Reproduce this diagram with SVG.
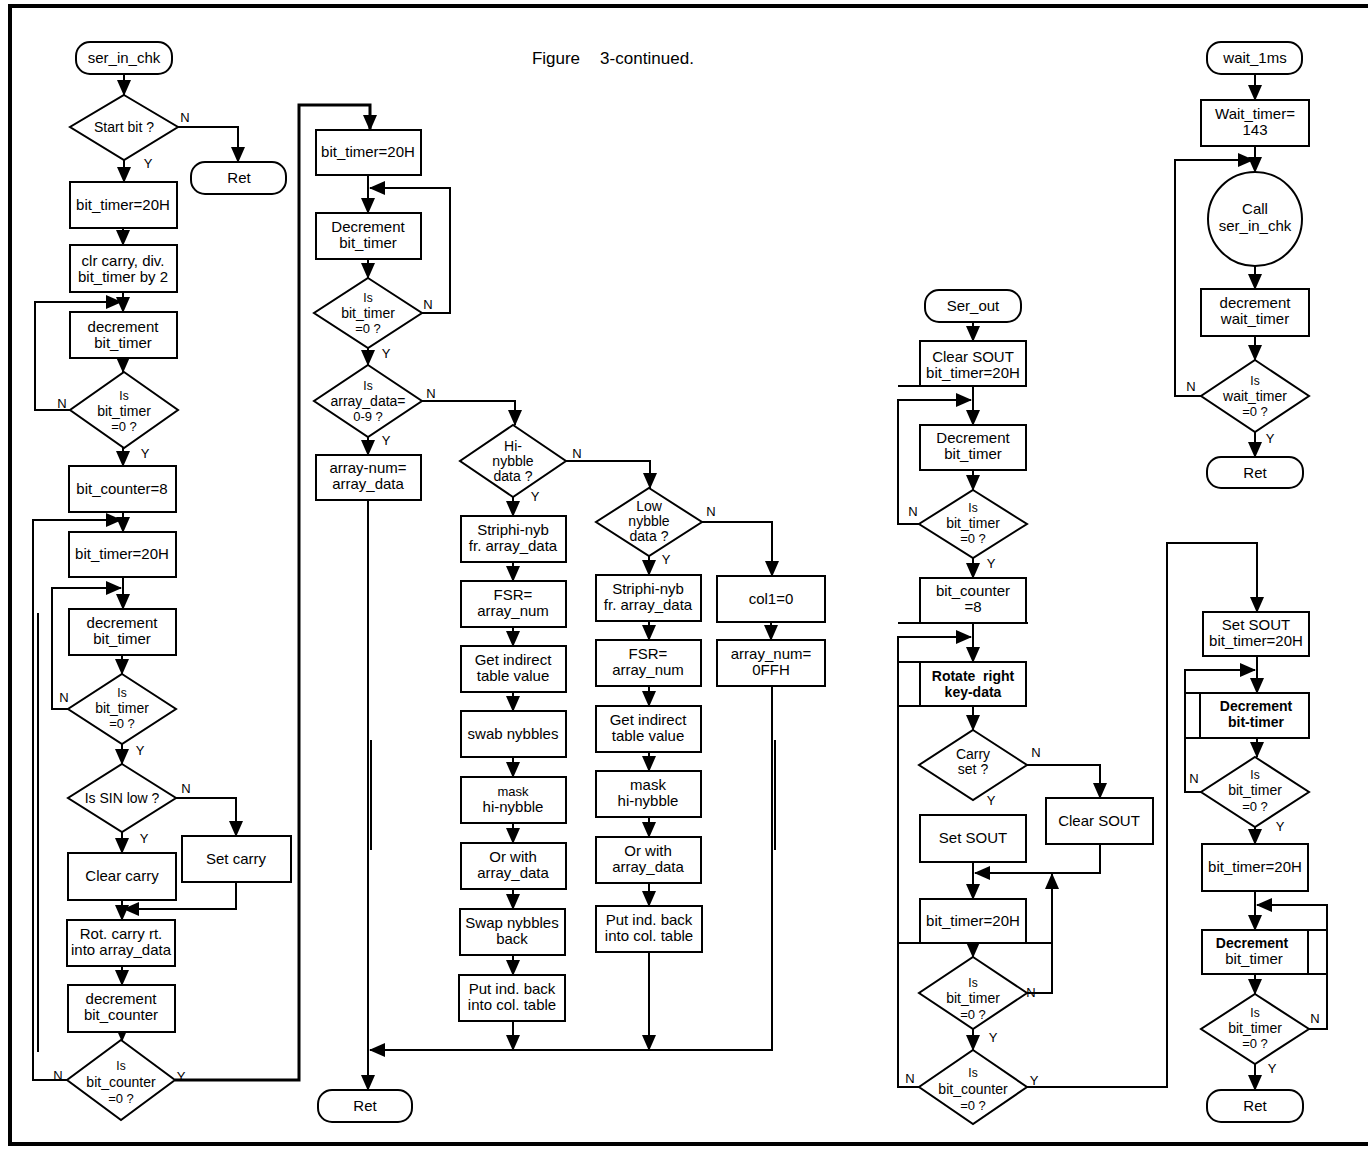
<svg xmlns="http://www.w3.org/2000/svg" width="1368" height="1149" viewBox="0 0 1368 1149">
<defs>
<marker id="a" markerUnits="userSpaceOnUse" markerWidth="16" markerHeight="14" refX="15" refY="7" orient="auto"><path d="M0,0 L16,7 L0,14 z" fill="#000"/></marker>
<style>
.b{fill:#fff;stroke:#000;stroke-width:2}
.c{fill:none;stroke:#000;stroke-width:2}
.ar{fill:none;stroke:#000;stroke-width:2;marker-end:url(#a)}
text{font-family:"Liberation Sans",Arial,sans-serif;font-size:15px;text-anchor:middle;fill:#000}
.s{font-size:12px}
.d{font-size:14px}
.e{font-size:13px}
.bd{font-weight:bold;font-size:14px}
.l{font-size:13px}
</style>
</defs>
<rect x="0" y="0" width="1368" height="1149" fill="#fff"/>
<g id="frame" fill="none" stroke="#000" stroke-width="4">
<path d="M1368,6 H10 V1144 H1368"/>
</g>
<text x="532" y="64" style="text-anchor:start;font-size:17px" textLength="48">Figure</text>
<text x="600" y="64" style="text-anchor:start;font-size:17px" textLength="94">3-continued.</text>

<g id="connectors">
<!-- column 1 -->
<path class="ar" d="M124,74 V95"/>
<path class="ar" d="M178,127 H238 V162"/>
<path class="ar" d="M124,160 V182"/>
<path class="ar" d="M123,228 V245"/>
<path class="ar" d="M123,292 V312"/>
<path class="ar" d="M70,410 H35 V302 H121"/>
<path class="ar" d="M123,358 V372"/>
<path class="ar" d="M123,448 V466"/>
<path class="ar" d="M123,512 V532"/>
<path class="ar" d="M67,1080 H33 V520 H121"/>
<path class="ar" d="M123,577 V609"/>
<path class="ar" d="M68,709 H52 V588 H121"/>
<path class="ar" d="M122,655 V674"/>
<path class="ar" d="M122,744 V764"/>
<path class="ar" d="M176,798 H236 V836"/>
<path class="ar" d="M122,832 V853"/>
<path class="ar" d="M236,882 V909 H124"/>
<path class="ar" d="M122,900 V920"/>
<path class="ar" d="M122,966 V985"/>
<path class="ar" d="M122,1032 V1041"/>
<path class="ar" d="M175,1080 H299 V105 H370 V130" style="stroke-width:3"/>
<path class="c" d="M38,613 V1052"/>
<!-- column 2 -->
<path class="ar" d="M368,175 V213"/>
<path class="ar" d="M422,313 H450 V188 H370"/>
<path class="ar" d="M368,259 V278"/>
<path class="ar" d="M368,348 V365"/>
<path class="ar" d="M422,401 H515 V425"/>
<path class="ar" d="M368,437 V455"/>
<path class="ar" d="M368,500 V1090"/>
<path class="ar" d="M772,686 V1050 H370"/>
<path class="c" d="M371,740 V850"/>
<path class="c" d="M775,740 V850"/>
<path class="ar" d="M566,461 H650 V488"/>
<path class="ar" d="M513,497 V516"/>
<path class="ar" d="M513,562 V581"/>
<path class="ar" d="M513,627 V646"/>
<path class="ar" d="M513,692 V711"/>
<path class="ar" d="M513,757 V777"/>
<path class="ar" d="M513,823 V843"/>
<path class="ar" d="M513,889 V909"/>
<path class="ar" d="M513,955 V975"/>
<path class="ar" d="M513,1021 V1050"/>
<path class="ar" d="M702,522 H772 V576"/>
<path class="ar" d="M649,556 V575"/>
<path class="ar" d="M649,621 V640"/>
<path class="ar" d="M649,686 V706"/>
<path class="ar" d="M649,752 V771"/>
<path class="ar" d="M649,817 V837"/>
<path class="ar" d="M649,883 V906"/>
<path class="ar" d="M649,952 V1050"/>
<path class="ar" d="M771,622 V640"/>
<!-- column 3 -->
<path class="ar" d="M973,322 V341"/>
<path class="c" d="M898,386 H920"/>
<path class="ar" d="M973,386 V425"/>
<path class="ar" d="M919,524 H898 V400 H971"/>
<path class="ar" d="M973,470 V490"/>
<path class="ar" d="M973,558 V578"/>
<path class="c" d="M898,623 H1028"/>
<path class="ar" d="M973,623 V662"/>
<path class="ar" d="M919,1087 H898 V637 H971"/>
<path class="ar" d="M973,706 V730"/>
<path class="ar" d="M1027,765 H1100 V798"/>
<path class="ar" d="M1100,844 V873 H975"/>
<path class="ar" d="M973,862 V899"/>
<path class="c" d="M898,943 H1052"/>
<path class="ar" d="M973,943 V957"/>
<path class="ar" d="M1027,993 H1052 V874"/>
<path class="ar" d="M973,1029 V1050"/>
<path class="ar" d="M1027,1087 H1167 V543 H1257 V612"/>
<!-- column 4 -->
<path class="ar" d="M1255,74 V100"/>
<path class="ar" d="M1255,146 V172"/>
<path class="ar" d="M1201,396 H1175 V160 H1253"/>
<path class="ar" d="M1255,266 V289"/>
<path class="ar" d="M1255,336 V360"/>
<path class="ar" d="M1255,432 V457"/>
<path class="ar" d="M1257,656 V693"/>
<path class="ar" d="M1201,792 H1185 V670 H1255"/>
<path class="ar" d="M1257,738 V757"/>
<path class="ar" d="M1255,827 V844"/>
<path class="ar" d="M1255,891 V930"/>
<path class="ar" d="M1309,1029 H1327 V905 H1257"/>
<path class="ar" d="M1255,974 V994"/>
<path class="ar" d="M1255,1064 V1090"/>
</g>

<g id="labels">
<text class="l" x="185" y="122">N</text>
<text class="l" x="148" y="168">Y</text>
<text class="l" x="62" y="408">N</text>
<text class="l" x="145" y="458">Y</text>
<text class="l" x="64" y="702">N</text>
<text class="l" x="140" y="755">Y</text>
<text class="l" x="186" y="793">N</text>
<text class="l" x="144" y="843">Y</text>
<text class="l" x="58" y="1080">N</text>
<text class="l" x="181" y="1081">Y</text>
<text class="l" x="428" y="309">N</text>
<text class="l" x="386" y="358">Y</text>
<text class="l" x="431" y="398">N</text>
<text class="l" x="386" y="445">Y</text>
<text class="l" x="577" y="458">N</text>
<text class="l" x="535" y="501">Y</text>
<text class="l" x="711" y="516">N</text>
<text class="l" x="666" y="564">Y</text>
<text class="l" x="913" y="516">N</text>
<text class="l" x="991" y="568">Y</text>
<text class="l" x="1036" y="757">N</text>
<text class="l" x="991" y="805">Y</text>
<text class="l" x="1031" y="997">N</text>
<text class="l" x="993" y="1042">Y</text>
<text class="l" x="910" y="1083">N</text>
<text class="l" x="1034" y="1085">Y</text>
<text class="l" x="1191" y="391">N</text>
<text class="l" x="1270" y="443">Y</text>
<text class="l" x="1194" y="783">N</text>
<text class="l" x="1280" y="831">Y</text>
<text class="l" x="1315" y="1023">N</text>
<text class="l" x="1272" y="1073">Y</text>
</g>

<!-- Column 1 nodes -->
<g id="n_ser_in_chk"><rect class="b" x="76" y="42" width="96" height="32" rx="14"/><text x="124" y="63">ser_in_chk</text></g>
<g id="n_start_bit"><polygon class="b" points="124,95 178,127 124,160 70,127"/><text class="d" x="124" y="132">Start bit ?</text></g>
<g id="n_ret1"><rect class="b" x="191" y="162" width="95" height="32" rx="14"/><text x="239" y="183">Ret</text></g>
<g id="n_c1_bt20"><rect class="b" x="70" y="182" width="107" height="46"/><text x="123" y="210">bit_timer=20H</text></g>
<g id="n_clr_carry"><rect class="b" x="70" y="245" width="107" height="47"/><text x="123" y="266">clr carry, div.</text><text x="123" y="282">bit_timer by 2</text></g>
<g id="n_c1_dec1"><rect class="b" x="70" y="312" width="107" height="46"/><text x="123" y="332">decrement</text><text x="123" y="348">bit_timer</text></g>
<g id="n_c1_d1"><polygon class="b" points="124,372 178,410 124,448 70,410"/><text class="s" x="124" y="400">Is</text><text class="d" x="124" y="416">bit_timer</text><text class="e" x="124" y="431">=0 ?</text></g>
<g id="n_bit_counter8"><rect class="b" x="69" y="466" width="107" height="46"/><text x="122" y="494">bit_counter=8</text></g>
<g id="n_c1_bt20b"><rect class="b" x="69" y="532" width="107" height="45"/><text x="122" y="559">bit_timer=20H</text></g>
<g id="n_c1_dec2"><rect class="b" x="69" y="609" width="107" height="46"/><text x="122" y="628">decrement</text><text x="122" y="644">bit_timer</text></g>
<g id="n_c1_d2"><polygon class="b" points="122,674 176,709 122,744 68,709"/><text class="s" x="122" y="697">Is</text><text class="d" x="122" y="713">bit_timer</text><text class="e" x="122" y="728">=0 ?</text></g>
<g id="n_sin_low"><polygon class="b" points="122,764 176,798 122,832 68,798"/><text class="d" x="122" y="803">Is SIN low ?</text></g>
<g id="n_set_carry"><rect class="b" x="182" y="836" width="109" height="46"/><text x="236" y="864">Set carry</text></g>
<g id="n_clear_carry"><rect class="b" x="68" y="853" width="108" height="47"/><text x="122" y="881">Clear carry</text></g>
<g id="n_rot_carry"><rect class="b" x="67" y="920" width="108" height="46"/><text x="121" y="939">Rot. carry rt.</text><text x="121" y="955">into array_data</text></g>
<g id="n_dec_bc"><rect class="b" x="68" y="985" width="107" height="47"/><text x="121" y="1004">decrement</text><text x="121" y="1020">bit_counter</text></g>
<g id="n_c1_d3"><polygon class="b" points="121,1040 175,1080 121,1120 67,1080"/><text class="s" x="121" y="1070">Is</text><text class="d" x="121" y="1087">bit_counter</text><text class="e" x="121" y="1103">=0 ?</text></g>

<!-- Column 2 nodes -->
<g id="n_c2_bt20"><rect class="b" x="316" y="130" width="105" height="45"/><text x="368" y="157">bit_timer=20H</text></g>
<g id="n_c2_dec"><rect class="b" x="316" y="213" width="105" height="46"/><text x="368" y="232">Decrement</text><text x="368" y="248">bit_timer</text></g>
<g id="n_c2_d1"><polygon class="b" points="368,278 422,313 368,348 314,313"/><text class="s" x="368" y="302">Is</text><text class="d" x="368" y="318">bit_timer</text><text class="e" x="368" y="333">=0 ?</text></g>
<g id="n_c2_d2"><polygon class="b" points="368,365 422,401 368,437 314,401"/><text class="s" x="368" y="390">Is</text><text class="d" x="368" y="406">array_data=</text><text class="e" x="368" y="421">0-9 ?</text></g>
<g id="n_array_num"><rect class="b" x="316" y="455" width="105" height="45"/><text x="368" y="473">array-num=</text><text x="368" y="489">array_data</text></g>
<g id="n_ret2"><rect class="b" x="318" y="1090" width="94" height="32" rx="14"/><text x="365" y="1111">Ret</text></g>

<g id="n_hi_nybble"><polygon class="b" points="513,425 566,461 513,497 460,461"/><text class="d" x="513" y="451">Hi-</text><text class="d" x="513" y="466">nybble</text><text class="d" x="513" y="481">data ?</text></g>
<g id="n_h1"><rect class="b" x="461" y="516" width="105" height="46"/><text x="513" y="535">Striphi-nyb</text><text x="513" y="551">fr. array_data</text></g>
<g id="n_h2"><rect class="b" x="461" y="581" width="105" height="46"/><text x="513" y="600">FSR=</text><text x="513" y="616">array_num</text></g>
<g id="n_h3"><rect class="b" x="461" y="646" width="105" height="46"/><text x="513" y="665">Get indirect</text><text x="513" y="681">table value</text></g>
<g id="n_h4"><rect class="b" x="461" y="711" width="105" height="46"/><text x="513" y="739">swab nybbles</text></g>
<g id="n_h5"><rect class="b" x="461" y="777" width="105" height="46"/><text class="e" x="513" y="796">mask</text><text x="513" y="812">hi-nybble</text></g>
<g id="n_h6"><rect class="b" x="461" y="843" width="105" height="46"/><text x="513" y="862">Or with</text><text x="513" y="878">array_data</text></g>
<g id="n_h7"><rect class="b" x="460" y="909" width="105" height="46"/><text x="512" y="928">Swap nybbles</text><text x="512" y="944">back</text></g>
<g id="n_h8"><rect class="b" x="459" y="975" width="106" height="46"/><text x="512" y="994">Put ind. back</text><text x="512" y="1010">into col. table</text></g>

<g id="n_low_nybble"><polygon class="b" points="649,488 702,522 649,556 596,522"/><text class="d" x="649" y="511">Low</text><text class="d" x="649" y="526">nybble</text><text class="d" x="649" y="541">data ?</text></g>
<g id="n_l1"><rect class="b" x="596" y="575" width="105" height="46"/><text x="648" y="594">Striphi-nyb</text><text x="648" y="610">fr. array_data</text></g>
<g id="n_l2"><rect class="b" x="596" y="640" width="105" height="46"/><text x="648" y="659">FSR=</text><text x="648" y="675">array_num</text></g>
<g id="n_l3"><rect class="b" x="596" y="706" width="105" height="46"/><text x="648" y="725">Get indirect</text><text x="648" y="741">table value</text></g>
<g id="n_l4"><rect class="b" x="596" y="771" width="105" height="46"/><text x="648" y="790">mask</text><text x="648" y="806">hi-nybble</text></g>
<g id="n_l5"><rect class="b" x="596" y="837" width="105" height="46"/><text x="648" y="856">Or with</text><text x="648" y="872">array_data</text></g>
<g id="n_l6"><rect class="b" x="596" y="906" width="106" height="46"/><text x="649" y="925">Put ind. back</text><text x="649" y="941">into col. table</text></g>

<g id="n_col1"><rect class="b" x="717" y="576" width="108" height="46"/><text x="771" y="604">col1=0</text></g>
<g id="n_array_num_ff"><rect class="b" x="717" y="640" width="108" height="46"/><text x="771" y="659">array_num=</text><text x="771" y="675">0FFH</text></g>

<!-- Column 3 nodes -->
<g id="n_ser_out"><rect class="b" x="925" y="290" width="96" height="32" rx="14"/><text x="973" y="311">Ser_out</text></g>
<g id="n_clear_sout1"><rect class="b" x="920" y="341" width="106" height="45"/><text x="973" y="362">Clear SOUT</text><text x="973" y="378">bit_timer=20H</text></g>
<g id="n_c3_dec"><rect class="b" x="920" y="425" width="106" height="45"/><text x="973" y="443">Decrement</text><text x="973" y="459">bit_timer</text></g>
<g id="n_c3_d1"><polygon class="b" points="973,490 1027,524 973,558 919,524"/><text class="s" x="973" y="512">Is</text><text class="d" x="973" y="528">bit_timer</text><text class="e" x="973" y="543">=0 ?</text></g>
<g id="n_c3_bc8"><rect class="b" x="920" y="578" width="106" height="45"/><text x="973" y="596">bit_counter</text><text x="973" y="612">=8</text></g>
<g id="n_rotate"><rect class="b" x="898" y="662" width="128" height="44"/><path class="c" d="M920,662 V706"/><text class="bd" x="973" y="681">Rotate&#160; right</text><text class="bd" x="973" y="697">key-data</text></g>
<g id="n_carry_set"><polygon class="b" points="973,730 1027,765 973,800 919,765"/><text class="d" x="973" y="759">Carry</text><text class="d" x="973" y="774">set ?</text></g>
<g id="n_clear_sout2"><rect class="b" x="1046" y="798" width="107" height="46"/><text x="1099" y="826">Clear SOUT</text></g>
<g id="n_set_sout"><rect class="b" x="920" y="815" width="106" height="47"/><text x="973" y="843">Set SOUT</text></g>
<g id="n_c3_bt20"><rect class="b" x="920" y="899" width="106" height="44"/><text x="973" y="926">bit_timer=20H</text></g>
<g id="n_c3_d2"><polygon class="b" points="973,957 1027,993 973,1029 919,993"/><text class="s" x="973" y="987">Is</text><text class="d" x="973" y="1003">bit_timer</text><text class="e" x="973" y="1019">=0 ?</text></g>
<g id="n_c3_d3"><polygon class="b" points="973,1050 1027,1087 973,1124 919,1087"/><text class="s" x="973" y="1077">Is</text><text class="d" x="973" y="1094">bit_counter</text><text class="e" x="973" y="1110">=0 ?</text></g>

<!-- Column 4 nodes -->
<g id="n_wait_1ms"><rect class="b" x="1207" y="42" width="95" height="32" rx="14"/><text x="1255" y="63">wait_1ms</text></g>
<g id="n_wait_timer"><rect class="b" x="1201" y="100" width="108" height="46"/><text x="1255" y="119">Wait_timer=</text><text x="1255" y="135">143</text></g>
<g id="n_call"><circle class="b" cx="1255" cy="219" r="47"/><text x="1255" y="214">Call</text><text x="1255" y="231">ser_in_chk</text></g>
<g id="n_dec_wait"><rect class="b" x="1201" y="289" width="108" height="47"/><text x="1255" y="308">decrement</text><text x="1255" y="324">wait_timer</text></g>
<g id="n_c4_d1"><polygon class="b" points="1255,360 1309,396 1255,432 1201,396"/><text class="s" x="1255" y="385">Is</text><text class="d" x="1255" y="401">wait_timer</text><text class="e" x="1255" y="416">=0 ?</text></g>
<g id="n_ret3"><rect class="b" x="1207" y="457" width="96" height="31" rx="14"/><text x="1255" y="478">Ret</text></g>
<g id="n_set_sout2"><rect class="b" x="1203" y="612" width="106" height="44"/><text x="1256" y="630">Set SOUT</text><text x="1256" y="646">bit_timer=20H</text></g>
<g id="n_c4_dec1"><rect class="b" x="1185" y="693" width="124" height="45"/><path class="c" d="M1200,693 V738"/><text class="bd" x="1256" y="711">Decrement</text><text class="bd" x="1256" y="727">bit-timer</text></g>
<g id="n_c4_d2"><polygon class="b" points="1255,757 1309,792 1255,827 1201,792"/><text class="s" x="1255" y="779">Is</text><text class="d" x="1255" y="795">bit_timer</text><text class="e" x="1255" y="811">=0 ?</text></g>
<g id="n_c4_bt20"><rect class="b" x="1202" y="844" width="106" height="47"/><text x="1255" y="872">bit_timer=20H</text></g>
<g id="n_c4_dec2"><rect class="b" x="1202" y="930" width="125" height="44"/><path class="c" d="M1308,930 V974"/><text class="bd" x="1252" y="948">Decrement</text><text x="1254" y="964">bit_timer</text></g>
<g id="n_c4_d3"><polygon class="b" points="1255,994 1309,1029 1255,1064 1201,1029"/><text class="s" x="1255" y="1017">Is</text><text class="d" x="1255" y="1033">bit_timer</text><text class="e" x="1255" y="1048">=0 ?</text></g>
<g id="n_ret4"><rect class="b" x="1207" y="1090" width="96" height="32" rx="14"/><text x="1255" y="1111">Ret</text></g>
</svg>
